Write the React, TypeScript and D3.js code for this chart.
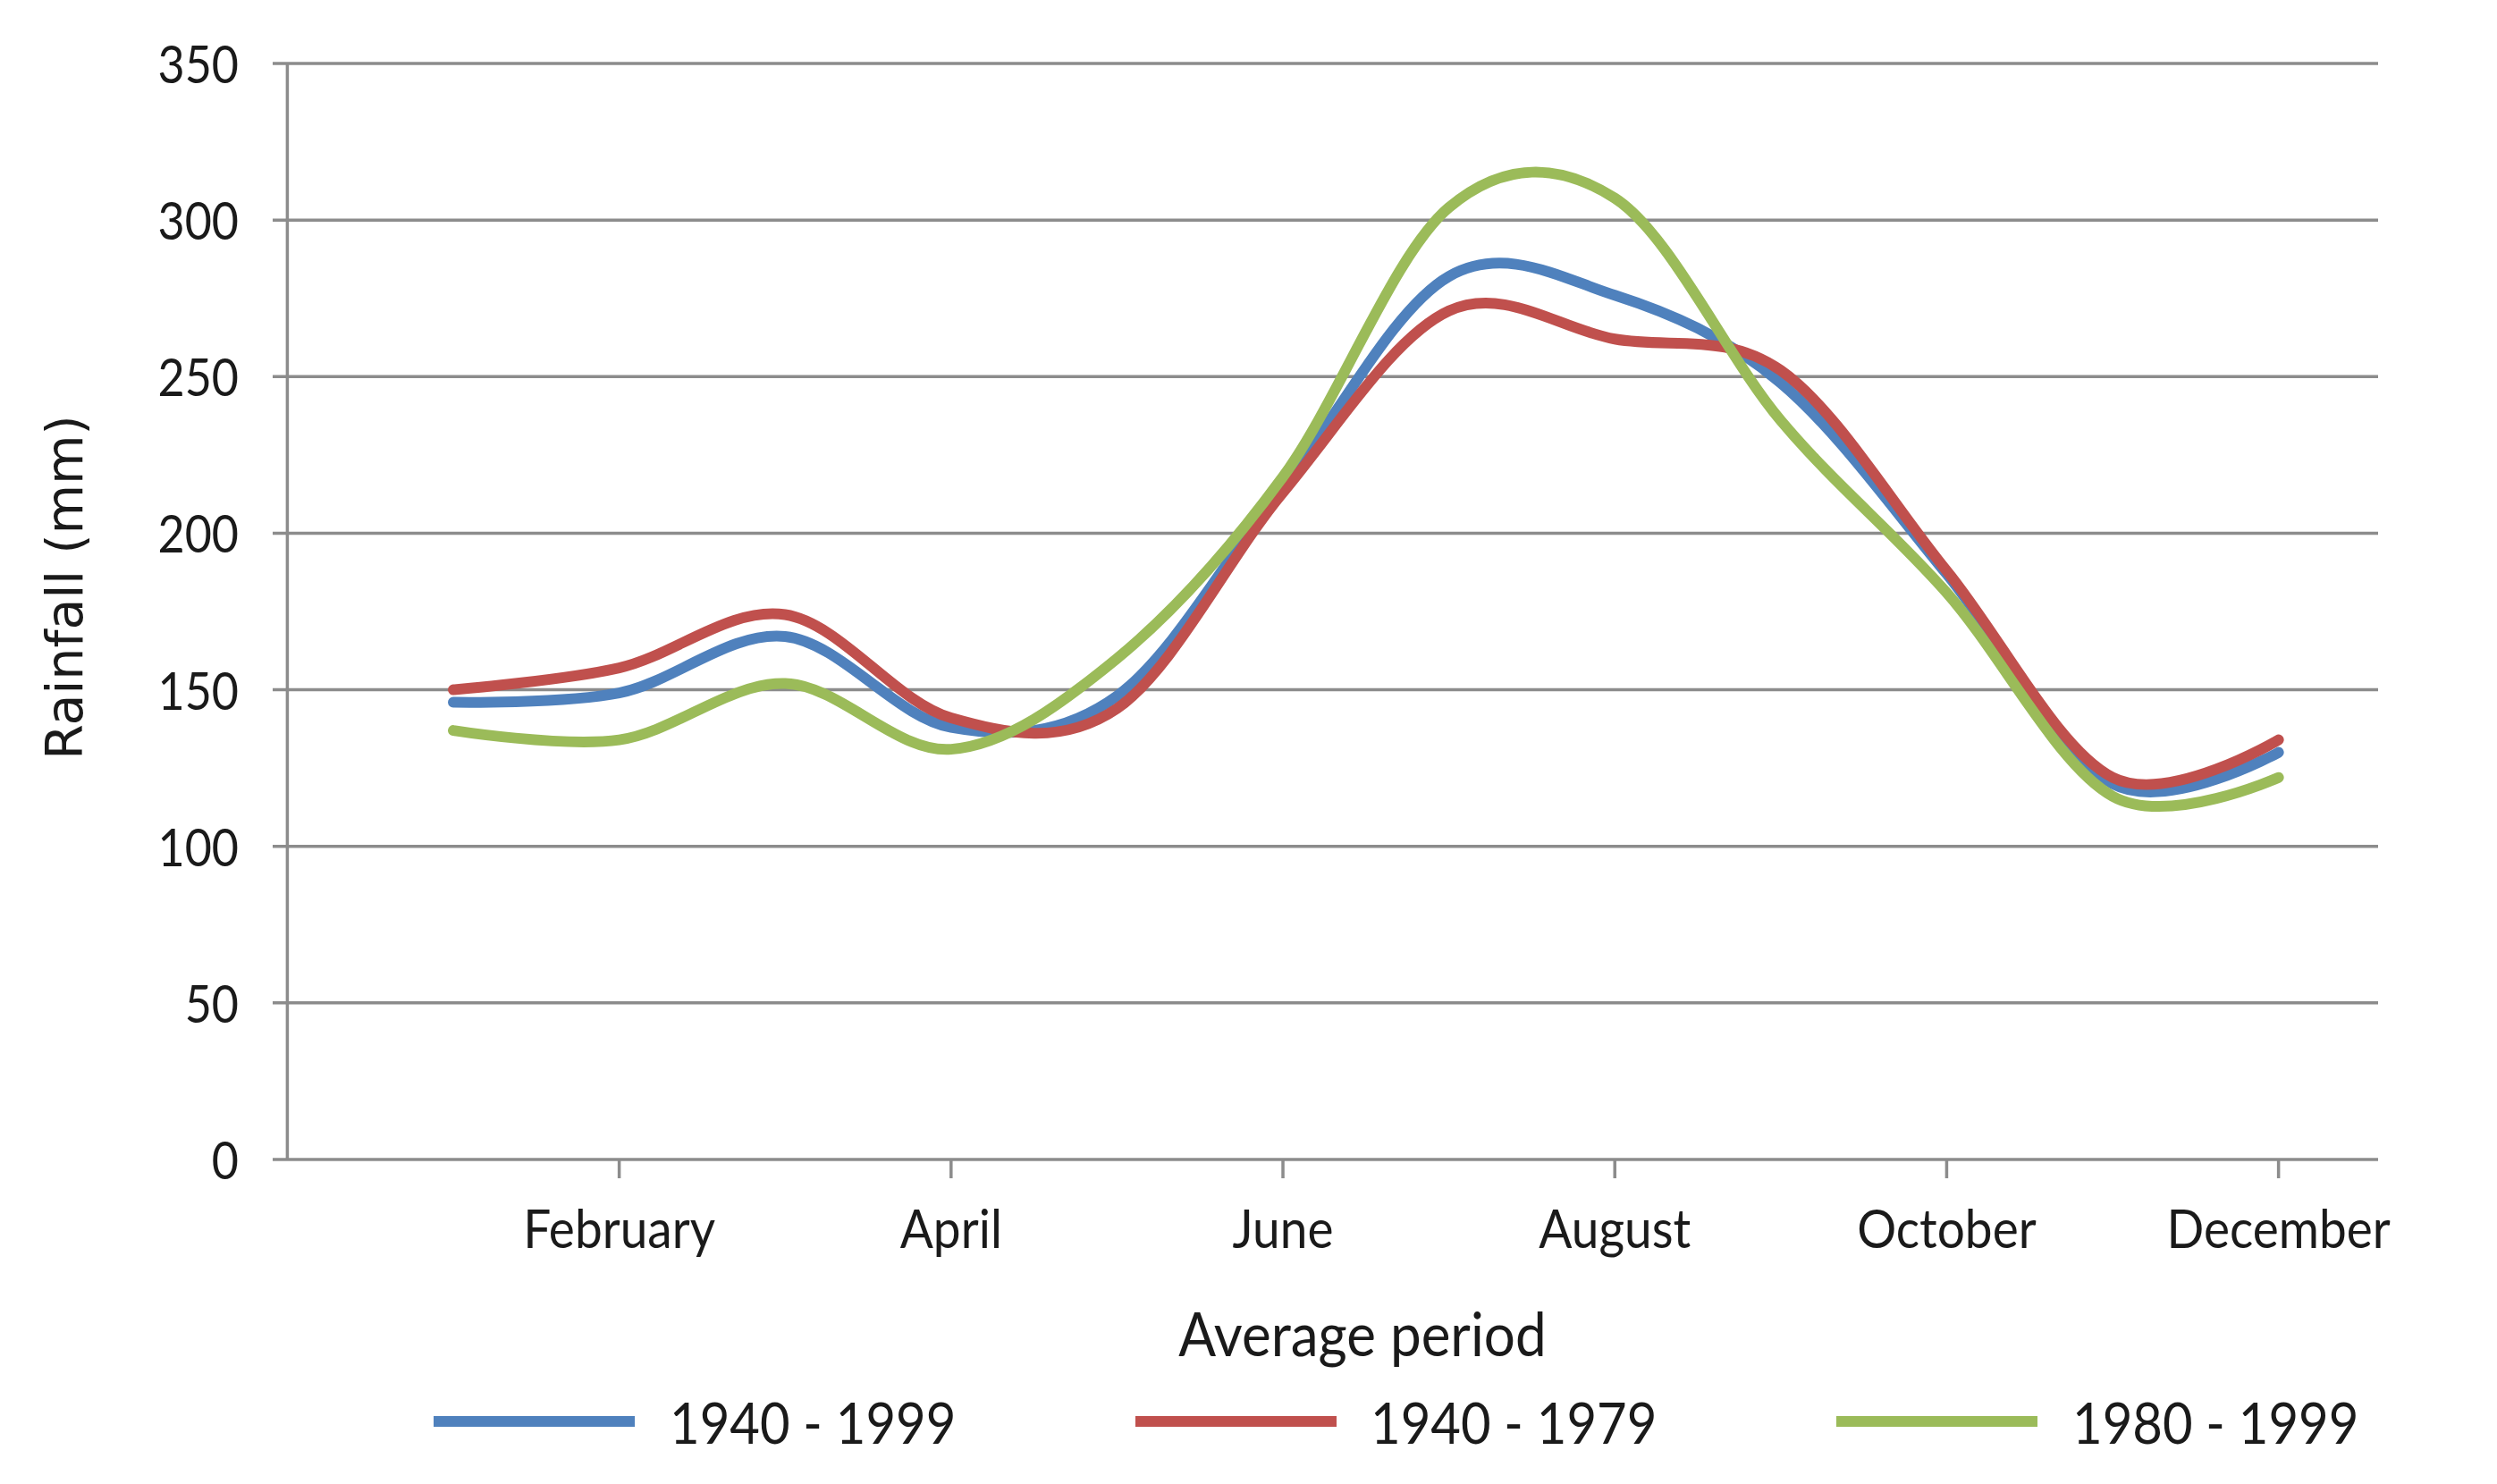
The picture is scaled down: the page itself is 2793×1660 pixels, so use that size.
import React from "react";
import * as d3 from "d3";

const months = ["January","February","March","April","May","June","July","August","September","October","November","December"];
const tickMonths = ["February","April","June","August","October","December"];
const yTicks = [0, 50, 100, 150, 200, 250, 300, 350];

const seriesNames = ["1940 - 1999", "1940 - 1979", "1980 - 1999"];
const seriesColors = ["#4F81BD", "#C0504D", "#9BBB59"];
const values1940_1999 = [146, 149, 167, 138, 148, 215, 282, 276, 248, 187, 120, 130];
const values1940_1979 = [150, 157, 174, 141, 144, 213, 271, 262, 252, 188, 122, 134];
const values1980_1999 = [137, 134, 152, 131, 160, 218, 304, 307, 236, 181, 116, 122];
const allValues = [values1940_1999, values1940_1979, values1980_1999];

const W = 2793, H = 1660;
const FONT = "Lato, 'DejaVu Sans Condensed', sans-serif";
const STRETCH = 1.1;

function Label(props: { x: number; y: number; size: number; anchor?: string; children: React.ReactNode }) {
  return (
    <text
      transform={`translate(${props.x},${props.y}) scale(1,${STRETCH})`}
      textAnchor={props.anchor || "start"}
      dominantBaseline="central"
      fontFamily={FONT}
      fontSize={props.size}
      fill="#1a1a1a"
    >
      {props.children}
    </text>
  );
}

export default function App() {
  const x = d3.scaleLinear().domain([0, 12.6]).range([321.4, 2660]);
  const y = d3.scaleLinear().domain([0, 350]).range([1297, 71]);
  const line = d3
    .line<number>()
    .x((_, i) => x(i + 1))
    .y((d) => y(d))
    .curve(d3.curveCatmullRom.alpha(0));

  const legendX = [485, 1270, 2054];
  const legendTextX = [749, 1533, 2318];
  return (
    <svg width={W} height={H} style={{ position: "absolute", left: 0, top: 0, background: "#fff" }}>
      {yTicks.map((t) => (
        <line key={t} x1={305} x2={x.range()[1]} y1={y(t)} y2={y(t)} stroke="#8c8c8c" strokeWidth={3.5} />
      ))}
      <line x1={x.range()[0]} x2={x.range()[0]} y1={y(350)} y2={y(0)} stroke="#8c8c8c" strokeWidth={3.5} />
      {tickMonths.map((m) => {
        const xi = x(months.indexOf(m) + 1);
        return <line key={m} x1={xi} x2={xi} y1={y(0)} y2={y(0) + 21} stroke="#8c8c8c" strokeWidth={3.5} />;
      })}
      {yTicks.map((t) => (
        <Label key={t} x={267} y={y(t)} size={52} anchor="end">{t}</Label>
      ))}
      {tickMonths.map((m) => (
        <Label key={m} x={x(months.indexOf(m) + 1)} y={1372} size={55} anchor="middle">{m}</Label>
      ))}
      <Label x={1524} y={1491} size={62} anchor="middle">Average period</Label>
      <text transform={`translate(72,657) rotate(-90)`} textAnchor="middle" dominantBaseline="central" fontFamily="'DejaVu Sans', sans-serif" fontSize={57} fill="#1a1a1a">
        Rainfall (mm)
      </text>
      {allValues.map((vals, i) => (
        <path key={i} d={line(vals) || ""} fill="none" stroke={seriesColors[i]} strokeWidth={12} strokeLinecap="round" strokeLinejoin="round" />
      ))}
      {seriesNames.map((n, i) => (
        <g key={n}>
          <line x1={legendX[i]} x2={legendX[i] + 225} y1={1590} y2={1590} stroke={seriesColors[i]} strokeWidth={12} />
          <Label x={legendTextX[i]} y={1590} size={58}>{n}</Label>
        </g>
      ))}
    </svg>
  );
}
